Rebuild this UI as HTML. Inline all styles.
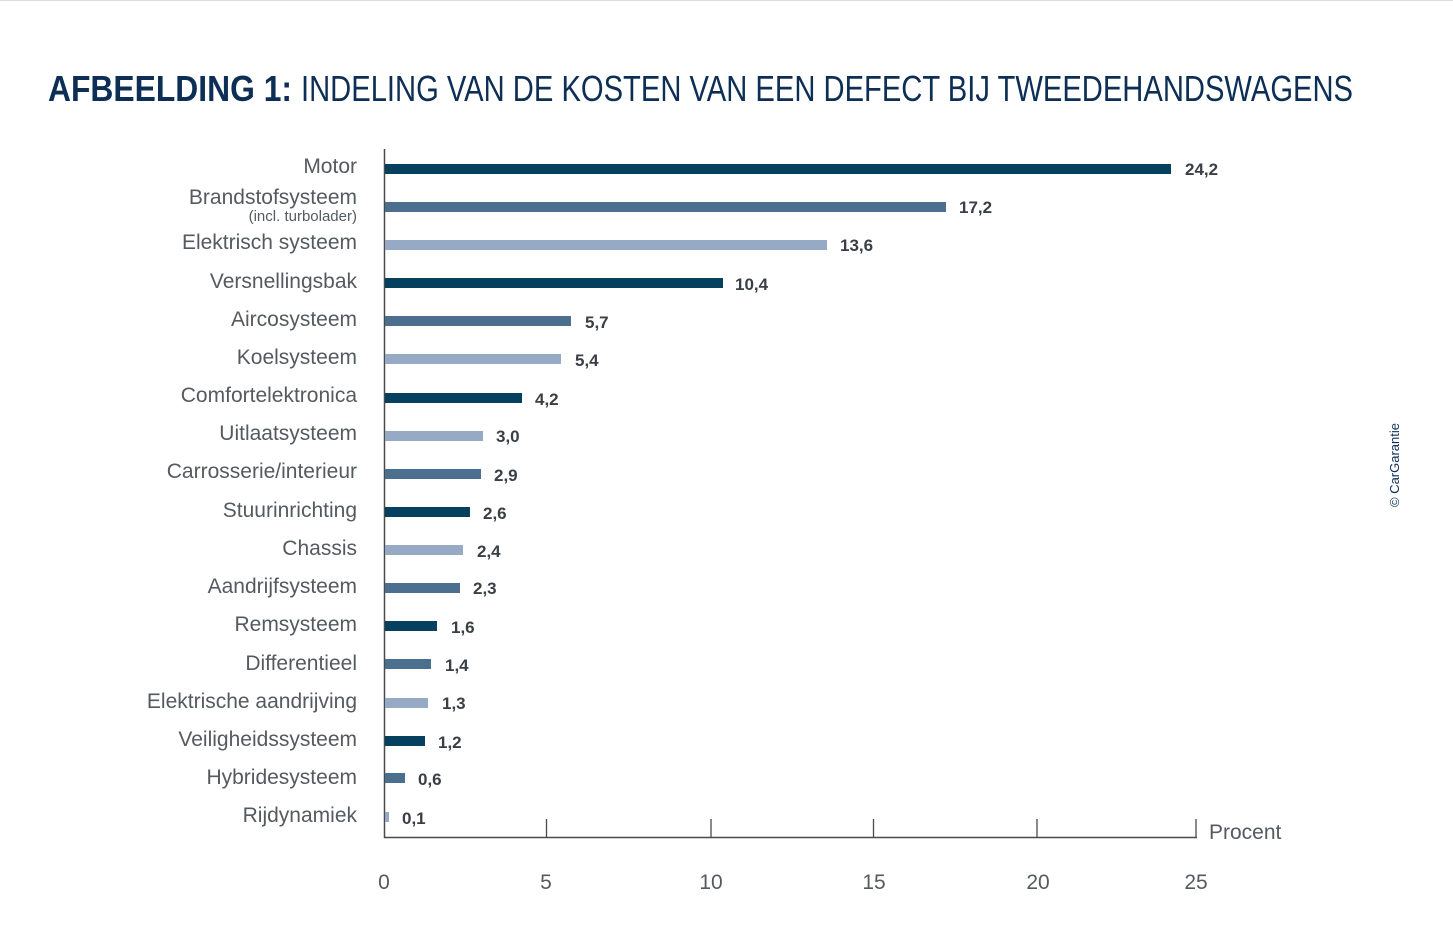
<!DOCTYPE html>
<html><head><meta charset="utf-8"><style>
html,body{margin:0;padding:0;background:#fff;}
svg{display:block;}
.lab{font-family:"Liberation Sans",sans-serif;font-size:21px;fill:#555a60;text-anchor:end;}
.val{font-family:"Liberation Sans Narrow","Liberation Sans",sans-serif;font-weight:bold;font-size:17px;fill:#3a3f45;}
.tick{font-family:"Liberation Sans",sans-serif;font-size:21px;fill:#555a60;text-anchor:middle;}
</style></head><body>
<svg width="1453" height="947" viewBox="0 0 1453 947" xmlns="http://www.w3.org/2000/svg">
<line x1="0" y1="0.5" x2="1453" y2="0.5" stroke="#ddd"/>
<text x="48" y="101" font-family="Liberation Sans,sans-serif" font-size="36" font-weight="bold" fill="#0d2f55" textLength="244" lengthAdjust="spacingAndGlyphs">AFBEELDING 1:</text>
<text x="301" y="101" font-family="Liberation Sans,sans-serif" font-size="36" fill="#0d2f55" textLength="1052" lengthAdjust="spacingAndGlyphs">INDELING VAN DE KOSTEN VAN EEN DEFECT BIJ TWEEDEHANDSWAGENS</text>
<line x1="384.5" y1="149" x2="384.5" y2="838" stroke="#4a4a4a" stroke-width="1.5"/>
<line x1="384" y1="837.5" x2="1197" y2="837.5" stroke="#4a4a4a" stroke-width="1.5"/>
<g stroke="#4a4a4a" stroke-width="1.3">
<line x1="546.5" y1="819" x2="546.5" y2="837"/>
<line x1="711" y1="819" x2="711" y2="837"/>
<line x1="873.5" y1="819" x2="873.5" y2="837"/>
<line x1="1037" y1="819" x2="1037" y2="837"/>
<line x1="1196" y1="819" x2="1196" y2="837"/>
</g>
<text class="tick" x="384" y="889">0</text>
<text class="tick" x="546" y="889">5</text>
<text class="tick" x="711" y="889">10</text>
<text class="tick" x="874" y="889">15</text>
<text class="tick" x="1038" y="889">20</text>
<text class="tick" x="1196" y="889">25</text>
<text x="1209" y="839" font-family="Liberation Sans,sans-serif" font-size="21" fill="#555a60">Procent</text>
<text transform="translate(1399,507) rotate(-90)" font-family="Liberation Sans,sans-serif" font-size="13" fill="#0d2f55">© CarGarantie</text>
<g>
<rect x="385" y="164" width="786" height="10" fill="#06405f"/><text class="val" x="1185" y="175">24,2</text><text class="lab" x="357" y="173">Motor</text>
<rect x="385" y="202" width="561" height="10" fill="#4d6f8f"/><text class="val" x="959" y="213">17,2</text><text class="lab" x="357" y="204">Brandstofsysteem</text><text class="lab" x="357" y="221" style="font-size:15px">(incl. turbolader)</text>
<rect x="385" y="240" width="442" height="10" fill="#97aac5"/><text class="val" x="840" y="251">13,6</text><text class="lab" x="357" y="249">Elektrisch systeem</text>
<rect x="385" y="278" width="338" height="10" fill="#06405f"/><text class="val" x="735" y="290">10,4</text><text class="lab" x="357" y="288">Versnellingsbak</text>
<rect x="385" y="316" width="186" height="10" fill="#4d6f8f"/><text class="val" x="585" y="328">5,7</text><text class="lab" x="357" y="326">Aircosysteem</text>
<rect x="385" y="354" width="176" height="10" fill="#97aac5"/><text class="val" x="575" y="366">5,4</text><text class="lab" x="357" y="364">Koelsysteem</text>
<rect x="385" y="393" width="137" height="10" fill="#06405f"/><text class="val" x="535" y="405">4,2</text><text class="lab" x="357" y="402">Comfortelektronica</text>
<rect x="385" y="431" width="98" height="10" fill="#97aac5"/><text class="val" x="496" y="442">3,0</text><text class="lab" x="357" y="440">Uitlaatsysteem</text>
<rect x="385" y="469" width="96" height="10" fill="#4d6f8f"/><text class="val" x="494" y="481">2,9</text><text class="lab" x="357" y="478">Carrosserie/interieur</text>
<rect x="385" y="507" width="85" height="10" fill="#06405f"/><text class="val" x="483" y="519">2,6</text><text class="lab" x="357" y="517">Stuurinrichting</text>
<rect x="385" y="545" width="78" height="10" fill="#97aac5"/><text class="val" x="477" y="557">2,4</text><text class="lab" x="357" y="555">Chassis</text>
<rect x="385" y="583" width="75" height="10" fill="#4d6f8f"/><text class="val" x="473" y="594">2,3</text><text class="lab" x="357" y="593">Aandrijfsysteem</text>
<rect x="385" y="621" width="52" height="10" fill="#06405f"/><text class="val" x="451" y="633">1,6</text><text class="lab" x="357" y="631">Remsysteem</text>
<rect x="385" y="659" width="46" height="10" fill="#4d6f8f"/><text class="val" x="445" y="671">1,4</text><text class="lab" x="357" y="670">Differentieel</text>
<rect x="385" y="698" width="43" height="10" fill="#97aac5"/><text class="val" x="442" y="709">1,3</text><text class="lab" x="357" y="708">Elektrische aandrijving</text>
<rect x="385" y="736" width="40" height="10" fill="#06405f"/><text class="val" x="438" y="748">1,2</text><text class="lab" x="357" y="746">Veiligheidssysteem</text>
<rect x="385" y="773" width="20" height="10" fill="#4d6f8f"/><text class="val" x="418" y="785">0,6</text><text class="lab" x="357" y="784">Hybridesysteem</text>
<rect x="385" y="812" width="4" height="10" fill="#97aac5"/><text class="val" x="402" y="824">0,1</text><text class="lab" x="357" y="822">Rijdynamiek</text>
</g>
</svg>
</body></html>
